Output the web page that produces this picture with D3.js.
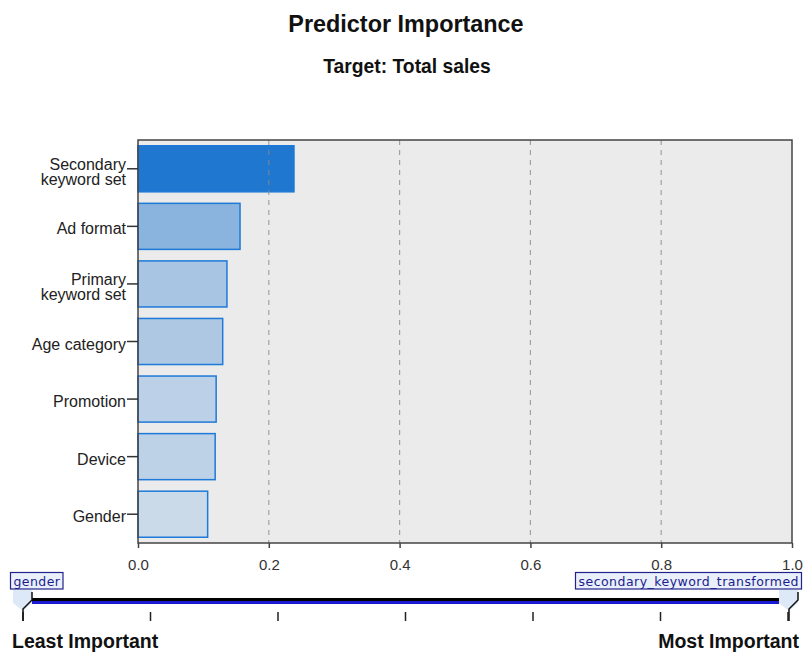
<!DOCTYPE html>
<html><head><meta charset="utf-8">
<script src="https://cdn.jsdelivr.net/npm/d3@7"></script>
<style>body{margin:0;background:#fff}svg{display:block}</style>
</head><body>
<svg id="c" width="804" height="653"></svg>
<script>
const categories = [["Secondary","keyword set"],["Ad format"],["Primary","keyword set"],["Age category"],["Promotion"],["Device"],["Gender"]];
const values = [0.2385, 0.156, 0.136, 0.1295, 0.1195, 0.118, 0.1065];
const fills = ["#1f77cf","#8ab3dd","#a9c5e4","#aec8e4","#bcd0e7","#bdd1e7","#cbdae8"];
const xTicks = [0, 0.2, 0.4, 0.6, 0.8, 1.0];
const leastLabel = "gender", mostLabel = "secondary_keyword_transformed";

const svg = d3.select("#c");
const font = "'Liberation Sans', Arial, sans-serif";
const L = 138, R = 792, T = 140, B = 543;
const x = d3.scaleLinear().domain([0,1]).range([L,R]);
const keys = categories.map(c => c.join(" "));
const y = d3.scaleBand().domain(keys).range([T,B]).paddingInner(0.2).paddingOuter(0.1);

svg.append("text").attr("x",406).attr("y",32).attr("text-anchor","middle")
  .attr("font-family",font).attr("font-weight","bold").attr("font-size",23.4).attr("fill","#111").text("Predictor Importance");
svg.append("text").attr("x",407).attr("y",73).attr("text-anchor","middle")
  .attr("font-family",font).attr("font-weight","bold").attr("font-size",19.3).attr("fill","#111").text("Target: Total sales");

svg.append("rect").attr("x",L).attr("y",T).attr("width",R-L).attr("height",B-T).attr("fill","#ebebeb");

svg.append("g").selectAll("rect").data(values).join("rect")
  .attr("x",x(0)).attr("y",(d,i)=>y(keys[i])).attr("width",d=>x(d)-x(0)).attr("height",y.bandwidth())
  .attr("fill",(d,i)=>fills[i]).attr("stroke","#1e7ad8").attr("stroke-width",1.5);

svg.append("g").selectAll("line").data(xTicks.slice(1,-1)).join("line")
  .attr("x1",d=>x(d)).attr("x2",d=>x(d)).attr("y1",T).attr("y2",B)
  .attr("stroke","#888").attr("stroke-opacity",0.75).attr("stroke-width",1.2).attr("stroke-dasharray","5,5");

svg.append("rect").attr("x",L).attr("y",T).attr("width",R-L).attr("height",B-T)
  .attr("fill","none").attr("stroke","#444").attr("stroke-width",1.5);

// x axis
const xa = svg.append("g").attr("transform",`translate(0,${B})`)
  .call(d3.axisBottom(x).tickValues(xTicks).tickFormat(d3.format(".1f")).tickSize(5).tickPadding(11));
xa.select(".domain").remove();
xa.selectAll("line").attr("stroke","#444").attr("stroke-width",1.5);
xa.selectAll("text").attr("font-family",font).attr("font-size",15).attr("fill","#333");

// y axis
const ya = svg.append("g").attr("transform",`translate(${L},0)`)
  .call(d3.axisLeft(y).tickSize(11).tickFormat(""));
ya.select(".domain").remove();
ya.selectAll("line").attr("stroke","#333").attr("stroke-width",1.5);
ya.selectAll(".tick").each(function(d,i){
  const lines = categories[i];
  const t = d3.select(this).append("text").attr("x",-12).attr("text-anchor","end")
    .attr("font-family",font).attr("font-size",16).attr("fill","#222");
  if (lines.length === 1) t.append("tspan").attr("x",-12).attr("y",8).text(lines[0]);
  else lines.forEach((s,j)=>t.append("tspan").attr("x",-12).attr("y",1+j*15.5).text(s));
});

// importance legend
const lx = d3.scaleLinear().domain([0,1]).range([23,788]);
const legTicks = [0,1/6,2/6,3/6,4/6,5/6,1];
svg.append("g").selectAll("line").data(legTicks).join("line")
  .attr("x1",d=>lx(d)).attr("x2",d=>lx(d)).attr("y1",612).attr("y2",621)
  .attr("stroke","#222").attr("stroke-width",1.5);
svg.append("line").attr("x1",32).attr("x2",779).attr("y1",602.5).attr("y2",602.5).attr("stroke","#1a1ad0").attr("stroke-width",3);
svg.append("line").attr("x1",32).attr("x2",779).attr("y1",599.5).attr("y2",599.5).attr("stroke","#000").attr("stroke-width",3);
// markers
svg.append("path").attr("d","M13,590 L32,590 L32,603 L23,611 L13,603 Z").attr("fill","#dde9f7");
svg.append("path").attr("d","M779,590 L798,590 L798,603 L789,611 L779,603 Z").attr("fill","#dde9f7");
svg.append("path").attr("d","M32,592 L32,600 L23,609 L23,621").attr("fill","none").attr("stroke","#111").attr("stroke-width",1.5);
svg.append("path").attr("d","M798,592 L798,600 L789,609 L789,621").attr("fill","none").attr("stroke","#111").attr("stroke-width",1.5);

function box(x0,x1,label){
  svg.append("rect").attr("x",x0).attr("y",572.5).attr("width",x1-x0).attr("height",16.5)
    .attr("fill","#e9f0fb").attr("stroke","#22228a").attr("stroke-width",1.2);
  svg.append("text").attr("x",x0+3).attr("y",585.5).attr("font-family","'DejaVu Sans', sans-serif")
    .attr("font-size",12.5).attr("fill","#1c1c8c").attr("textLength",x1-x0-6).attr("lengthAdjust","spacing").text(label);
}
box(10.5,63,leastLabel);
box(575.5,801.5,mostLabel);

svg.append("text").attr("x",12).attr("y",648).attr("font-family",font).attr("font-weight","bold")
  .attr("font-size",19.5).attr("fill","#111").text("Least Important");
svg.append("text").attr("x",799).attr("y",648).attr("text-anchor","end").attr("font-family",font).attr("font-weight","bold")
  .attr("font-size",19.5).attr("fill","#111").text("Most Important");
</script>
</body></html>
